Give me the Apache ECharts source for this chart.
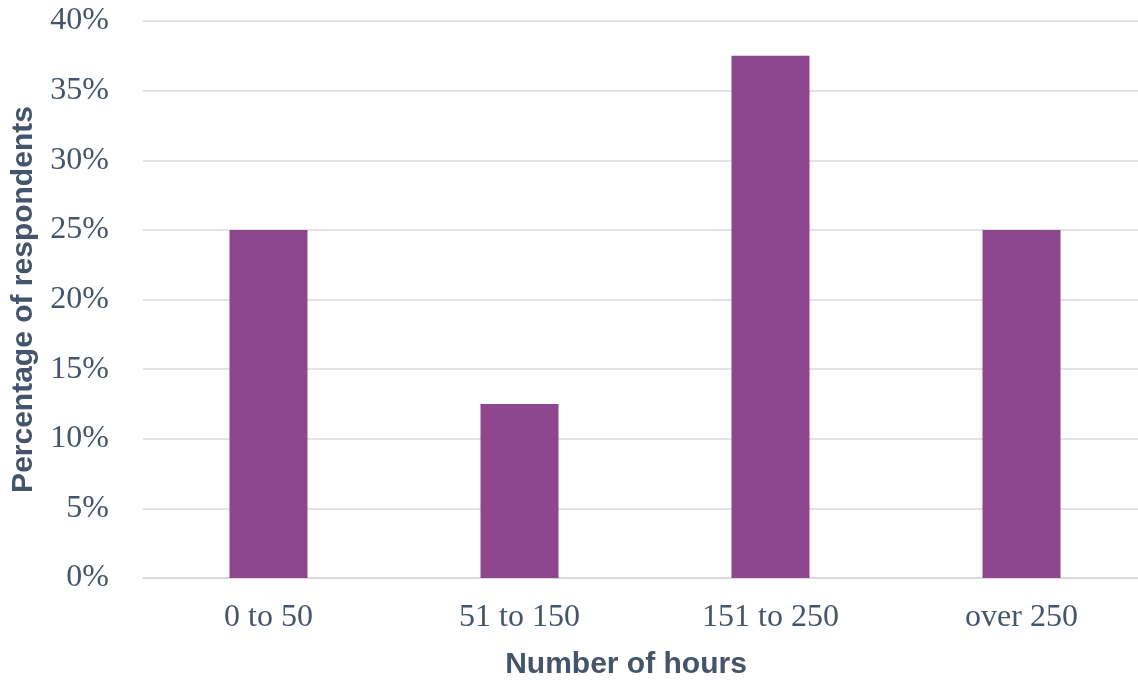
<!DOCTYPE html>
<html><head><meta charset="utf-8">
<script src="https://cdn.jsdelivr.net/npm/echarts@6/dist/echarts.min.js"></script>
<style>html,body{margin:0;padding:0;background:#fff}#c{width:1138px;height:680px}</style>
</head><body><div id="c"></div>
<script>
const categories = ['0 to 50', '51 to 150', '151 to 250', 'over 250'];
const values = [25, 12.5, 37.5, 25];
const yTicks = [0, 5, 10, 15, 20, 25, 30, 35, 40];
const xTitle = 'Number of hours';
const yTitle = 'Percentage of respondents';

const txt = '#44546A';
const chart = echarts.init(document.getElementById('c'));
chart.setOption({
  animation: false,
  grid: {left: 143, top: 21, width: 1004, height: 557, containLabel: false, outerBoundsMode: 'none'},
  xAxis: {
    type: 'category', data: categories,
    axisLine: {lineStyle: {color: '#D9D9D9', width: 2}},
    axisTick: {show: false},
    axisLabel: {color: txt, fontFamily: 'Liberation Serif', fontSize: 32, margin: 24}
  },
  yAxis: {
    type: 'value', min: yTicks[0], max: yTicks[yTicks.length - 1], interval: 5,
    axisLine: {show: false}, axisTick: {show: false},
    splitLine: {lineStyle: {color: '#E3E3E3', width: 2}},
    axisLabel: {color: txt, fontFamily: 'Liberation Serif', fontSize: 32, margin: 34,
      formatter: v => v + '%'},
    name: yTitle, nameLocation: 'middle', nameGap: 104, nameRotate: 90,
    nameTextStyle: {color: txt, fontFamily: 'Liberation Sans', fontWeight: 'bold', fontSize: 30}
  },
  graphic: [{
    type: 'text', x: 626, y: 665,
    style: {text: xTitle, fill: txt, fontFamily: 'Liberation Sans', fontWeight: 'bold', fontSize: 30,
      align: 'center', verticalAlign: 'middle'}
  }],
  series: [{
    type: 'bar', data: values, barWidth: 78,
    itemStyle: {color: '#8E478F'}
  }]
});
</script></body></html>
